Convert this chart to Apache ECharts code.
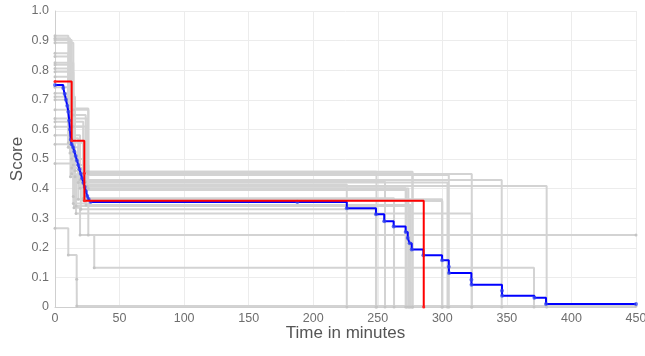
<!DOCTYPE html>
<html>
<head>
<meta charset="utf-8">
<script src="https://cdn.jsdelivr.net/npm/echarts@6/dist/echarts.min.js"></script>
<style>
  html, body { margin: 0; padding: 0; background: #fff; }
  #main { width: 645px; height: 356px; }
</style>
</head>
<body>
<div id="main"></div>
<script>
// individual runs (grey), [time, score] at each step
const greyRuns = [
  [[0, 0.916], [10.3, 0.671], [25.8, 0.457], [249, 0]],
  [[0, 0.908], [11.6, 0.637], [25, 0.457], [277, 0]],
  [[0, 0.902], [12.9, 0.609], [22, 0.452], [276.8, 0]],
  [[0, 0.893], [14.2, 0.666], [25.8, 0.449], [322.8, 0]],
  [[0, 0.857], [10.3, 0.626], [21.9, 0.446], [305, 0]],
  [[0, 0.846], [11.6, 0.58], [19.4, 0.429], [346, 0]],
  [[0, 0.825], [14.2, 0.649], [23.8, 0.423], [255.6, 0]],
  [[0, 0.818], [12.9, 0.57], [18, 0.421], [304, 0]],
  [[0, 0.806], [10.3, 0.555], [21.9, 0.414], [226, 0]],
  [[0, 0.795], [14.2, 0.61], [25, 0.409], [380.8, 0]],
  [[0, 0.778], [11.6, 0.52], [19.4, 0.401], [271.6, 0]],
  [[0, 0.742], [12.9, 0.5], [23.8, 0.395], [272.4, 0]],
  [[0, 0.722], [14.2, 0.48], [25.8, 0.4], [273.7, 0]],
  [[0, 0.71], [15.5, 0.46], [22, 0.367], [262.6, 0]],
  [[0, 0.7], [10.3, 0.54], [18, 0.364], [299.8, 0]],
  [[0, 0.666], [13, 0.47], [21.9, 0.361], [187.7, 0.358], [300, 0]],
  [[0, 0.637], [15.5, 0.44], [24, 0.345], [275.5, 0]],
  [[0, 0.626], [12.9, 0.45], [16.3, 0.341], [274.5, 0]],
  [[0, 0.609], [14.2, 0.373], [16.3, 0.316], [322.8, 0]],
  [[0, 0.485], [14.7, 0.335], [19.4, 0.243], [450, 0.243]],
  [[0, 0.58], [14.2, 0.35], [25.8, 0.243], [30.4, 0.133], [371, 0]],
  [[0, 0.266], [10.3, 0.176], [16.8, 0.094], [16.9, 0.003], [450, 0.003]],
  [[0, 0.55], [12, 0.44], [20, 0.33], [248.6, 0]]
];

// mean run (red)
const redSteps = [[0, 0.762], [12.9, 0.562], [22.7, 0.452], [22.8, 0.359], [285.6, 0]];

// pooled estimate (blue)
const blueSteps = [
  [0, 0.75], [6.4, 0.74], [7.5, 0.72], [8.5, 0.70], [9.5, 0.68], [10.3, 0.66],
  [11, 0.63], [11.6, 0.60], [12.2, 0.565], [12.9, 0.55], [14, 0.54], [15, 0.525],
  [16, 0.51], [17, 0.495], [18, 0.48], [19, 0.465], [20, 0.45], [21, 0.435],
  [22, 0.42], [23, 0.405], [24, 0.39], [25, 0.375], [26, 0.365], [27.5, 0.355],
  [187.7, 0.355], [226, 0.334], [248.6, 0.313], [255, 0.29], [262.3, 0.272],
  [271.6, 0.253], [273.2, 0.233], [274.7, 0.215], [276.3, 0.194], [285.3, 0.175],
  [299.8, 0.158], [305, 0.136], [305.2, 0.115], [322.5, 0.092], [322.6, 0.075],
  [346.2, 0.055], [346.3, 0.038], [371.3, 0.031], [380.3, 0.01], [450, 0.01]
];

const xTicks = { min: 0, max: 450, interval: 50 };
const yTicks = { min: 0, max: 1, interval: 0.1 };

const chart = echarts.init(document.getElementById('main'));

const series = greyRuns.map(function (run) {
  return {
    type: 'line',
    step: 'end',
    data: run,
    symbol: 'circle',
    symbolSize: 3,
    showSymbol: true,
    lineStyle: { color: '#d3d3d3', width: 2 },
    itemStyle: { color: '#c4c4c4' },
    silent: true,
    z: 1
  };
});

series.push({
  type: 'line',
  step: 'end',
  data: blueSteps,
  symbol: 'circle',
  symbolSize: 4,
  lineStyle: { color: '#0000ff', width: 2 },
  itemStyle: { color: '#3344ee', opacity: 0.75 },
  z: 3
});

series.push({
  type: 'line',
  step: 'end',
  data: redSteps,
  symbol: 'circle',
  symbolSize: 3,
  lineStyle: { color: '#ff0000', width: 2 },
  itemStyle: { color: '#ff2222' },
  z: 4
});

chart.setOption({
  animation: false,
  textStyle: { fontFamily: 'Liberation Sans, Arial, sans-serif' },
  grid: { left: 55, right: 9, top: 11, bottom: 49, containLabel: false, outerBoundsMode: 'none' },
  xAxis: {
    type: 'value',
    min: xTicks.min,
    max: xTicks.max,
    interval: xTicks.interval,
    name: 'Time in minutes',
    nameLocation: 'middle',
    nameGap: 18,
    nameMoveOverlap: false,
    nameTextStyle: { fontSize: 17, color: '#555' },
    axisLine: { show: true, lineStyle: { color: '#cfcfcf', width: 1 } },
    axisTick: { show: false },
    axisLabel: { fontSize: 12.5, color: '#6e6e6e', margin: 5 },
    splitLine: { show: true, lineStyle: { color: '#ececec', width: 1 } }
  },
  yAxis: {
    type: 'value',
    min: yTicks.min,
    max: yTicks.max,
    interval: yTicks.interval,
    name: 'Score',
    nameLocation: 'middle',
    nameGap: 29,
    nameMoveOverlap: false,
    nameTextStyle: { fontSize: 17, color: '#555' },
    axisLine: { show: true, lineStyle: { color: '#cfcfcf', width: 1 } },
    axisTick: { show: false },
    axisLabel: {
      fontSize: 12.5, color: '#6e6e6e', margin: 6,
      formatter: function (v) { return v === 0 ? '0' : v.toFixed(1); }
    },
    splitLine: { show: true, lineStyle: { color: '#ececec', width: 1 } }
  },
  series: series
});
</script>
</body>
</html>
